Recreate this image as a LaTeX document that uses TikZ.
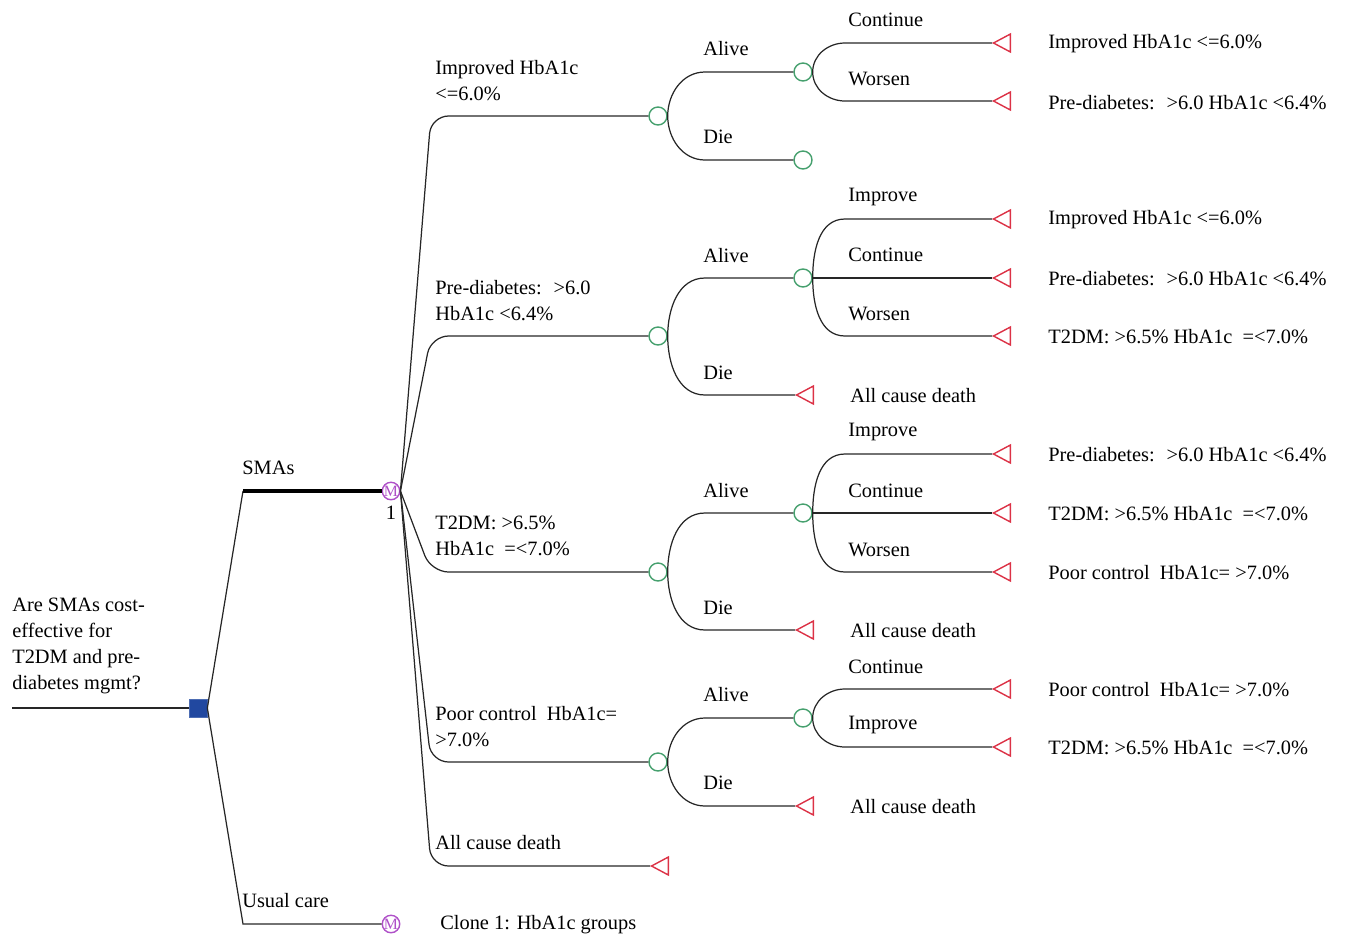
\documentclass[tikz,border=0pt]{standalone}
\usepackage{fontspec}
\setmainfont{Liberation Serif}
\usetikzlibrary{shapes.geometric}
\definecolor{decblue}{RGB}{33,72,160}
\definecolor{chgreen}{RGB}{70,160,110}
\definecolor{termred}{RGB}{220,50,70}
\definecolor{markpurple}{RGB}{175,80,200}
\tikzset{
  branch/.style={draw=black!85,line width=0.7pt},
  lbl/.style={anchor=west,inner sep=0pt,align=left,font=\fontsize{11.6}{14.8}\selectfont},
  chance/.style={circle,draw=chgreen,fill=white,line width=0.8pt,minimum size=0.36cm,inner sep=0pt},
  markov/.style={circle,draw=markpurple,fill=white,line width=0.8pt,minimum size=0.34cm,inner sep=0pt,text=markpurple,font=\fontsize{9}{9}\selectfont},
  terminal/.style={isosceles triangle,isosceles triangle apex angle=56,shape border rotate=180,draw=termred,fill=white,line width=0.8pt,minimum width=0.36cm,inner sep=0pt,anchor=apex},
  decision/.style={rectangle,fill=decblue,draw=decblue!80,minimum size=0.36cm,inner sep=0pt}
}
\begin{document}
\begin{tikzpicture}[x=0.02cm,y=0.02cm]
\useasboundingbox (0,0) rectangle (1347,-941);
% decision and markov nodes
\coordinate (root) at (12,-708);
\node[decision] (dec) at (198,-708) {};
\coordinate (ksma) at (243,-491);
\coordinate (kusual) at (243,-924);
\node[markov] (m1) at (391,-491) {M};
\node[markov] (m2) at (391,-924) {M};
\node[lbl] (q) at (12,-646) {Are SMAs cost-\\effective for\\T2DM and pre-\\diabetes mgmt?};
\node[lbl] (lsma) at (242,-468) {SMAs};
\node[lbl,anchor=center] (lone) at (391,-513) {1};
\node[lbl] (lusual) at (242,-901) {Usual care};
\node[lbl] (lclone) at (440,-925) {Clone 1: HbA1c groups};
\draw[branch] (root) -- (dec.west);
\draw[branch] (dec.east) -- (ksma);
\draw[line width=2.3pt] (ksma) -- (m1.west);
\draw[branch] (dec.east) -- (kusual) -- (m2.west);

% health states
\node[chance] (c1) at (658,-116) {};
\node[chance] (c2) at (658,-336) {};
\node[chance] (c3) at (658,-572) {};
\node[chance] (c4) at (658,-762) {};
\node[terminal] (t5) at (650,-866) {};
\node[lbl] (s1) at (435,-81) {Improved HbA1c\\<=6.0\%};
\node[lbl] (s2) at (435,-301) {Pre-diabetes:~ >6.0\\HbA1c <6.4\%};
\node[lbl] (s3) at (435,-536) {T2DM: >6.5\%\\HbA1c~ =<7.0\%};
\node[lbl] (s4) at (435,-727) {Poor control~ HbA1c=\\>7.0\%};
\node[lbl] (s5) at (435,-843) {All cause death};
\foreach \n/\y in {1/116,2/336,3/572,4/762,5/866}
  \coordinate (k\n) at (431,-\y);
\draw[branch,rounded corners=10pt] (m1.east) -- (k1) -- (c1.west);
\draw[branch,rounded corners=10pt] (m1.east) -- (k2) -- (c2.west);
\draw[branch,rounded corners=10pt] (m1.east) -- (k3) -- (c3.west);
\draw[branch,rounded corners=10pt] (m1.east) -- (k4) -- (c4.west);
\draw[branch,rounded corners=10pt] (m1.east) -- (k5) -- (t5.apex);

% alive / die
\node[chance] (c1a) at (803,-72) {};
\node[chance] (c1d) at (803,-160) {};
\node[chance] (c2a) at (803,-278) {};
\node[terminal] (t2d) at (795,-395) {};
\node[chance] (c3a) at (803,-513) {};
\node[terminal] (t3d) at (795,-630) {};
\node[chance] (c4a) at (803,-718) {};
\node[terminal] (t4d) at (795,-806) {};
\coordinate (e1a) at (705,-72);   \coordinate (e1d) at (705,-160);
\coordinate (e2a) at (705,-278);  \coordinate (e2d) at (705,-395);
\coordinate (e3a) at (705,-513);  \coordinate (e3d) at (705,-630);
\coordinate (e4a) at (705,-718);  \coordinate (e4d) at (705,-806);
\draw[branch] (c1.east) to[out=90,in=180] (e1a) -- (c1a.west);
\draw[branch] (c1.east) to[out=-90,in=180] (e1d) -- (c1d.west);
\draw[branch] (c2.east) to[out=90,in=180] (e2a) -- (c2a.west);
\draw[branch] (c2.east) to[out=-90,in=180] (e2d) -- (t2d.apex);
\draw[branch] (c3.east) to[out=90,in=180] (e3a) -- (c3a.west);
\draw[branch] (c3.east) to[out=-90,in=180] (e3d) -- (t3d.apex);
\draw[branch] (c4.east) to[out=90,in=180] (e4a) -- (c4a.west);
\draw[branch] (c4.east) to[out=-90,in=180] (e4d) -- (t4d.apex);
\node[lbl] (a1) at (703,-49) {Alive};  \node[lbl] (d1) at (703,-137) {Die};
\node[lbl] (a2) at (703,-256) {Alive}; \node[lbl] (d2) at (703,-373) {Die};
\node[lbl] (a3) at (703,-491) {Alive}; \node[lbl] (d3) at (703,-608) {Die};
\node[lbl] (a4) at (703,-695) {Alive}; \node[lbl] (d4) at (703,-783) {Die};
\node[lbl] (x2) at (850,-396) {All cause death};
\node[lbl] (x3) at (850,-631) {All cause death};
\node[lbl] (x4) at (850,-807) {All cause death};

% transitions
\foreach \n/\y in {11/43,12/101,21/219,22/278,23/336,31/454,32/513,33/572,41/689,42/747}
  \node[terminal] (t\n) at (992,-\y) {};
\foreach \n/\y in {11/43,12/101,21/219,23/336,31/454,33/572,41/689,42/747}
  \coordinate (f\n) at (845,-\y);
\draw[branch] (c1a.east) to[out=90,in=180] (f11) -- (t11.apex);
\draw[branch] (c1a.east) to[out=-90,in=180] (f12) -- (t12.apex);
\draw[branch] (c2a.east) to[out=90,in=180] (f21) -- (t21.apex);
\draw[branch] (c2a.east) -- (t22.apex);
\draw[branch] (c2a.east) to[out=-90,in=180] (f23) -- (t23.apex);
\draw[branch] (c3a.east) to[out=90,in=180] (f31) -- (t31.apex);
\draw[branch] (c3a.east) -- (t32.apex);
\draw[branch] (c3a.east) to[out=-90,in=180] (f33) -- (t33.apex);
\draw[branch] (c4a.east) to[out=90,in=180] (f41) -- (t41.apex);
\draw[branch] (c4a.east) to[out=-90,in=180] (f42) -- (t42.apex);
\node[lbl] (b11) at (848,-20) {Continue};
\node[lbl] (b12) at (848,-79) {Worsen};
\node[lbl] (b21) at (848,-197) {Improve};
\node[lbl] (b22) at (848,-255) {Continue};
\node[lbl] (b23) at (848,-314) {Worsen};
\node[lbl] (b31) at (848,-432) {Improve};
\node[lbl] (b32) at (848,-491) {Continue};
\node[lbl] (b33) at (848,-550) {Worsen};
\node[lbl] (b41) at (848,-667) {Continue};
\node[lbl] (b42) at (848,-725) {Improve};
\node[lbl] (r11) at (1048,-44) {Improved HbA1c <=6.0\%};
\node[lbl] (r12) at (1048,-103) {Pre-diabetes:~ >6.0 HbA1c <6.4\%};
\node[lbl] (r21) at (1048,-220) {Improved HbA1c <=6.0\%};
\node[lbl] (r22) at (1048,-279) {Pre-diabetes:~ >6.0 HbA1c <6.4\%};
\node[lbl] (r23) at (1048,-337) {T2DM: >6.5\% HbA1c~ =<7.0\%};
\node[lbl] (r31) at (1048,-455) {Pre-diabetes:~ >6.0 HbA1c <6.4\%};
\node[lbl] (r32) at (1048,-514) {T2DM: >6.5\% HbA1c~ =<7.0\%};
\node[lbl] (r33) at (1048,-573) {Poor control~ HbA1c= >7.0\%};
\node[lbl] (r41) at (1048,-690) {Poor control~ HbA1c= >7.0\%};
\node[lbl] (r42) at (1048,-748) {T2DM: >6.5\% HbA1c~ =<7.0\%};
\end{tikzpicture}
\end{document}
